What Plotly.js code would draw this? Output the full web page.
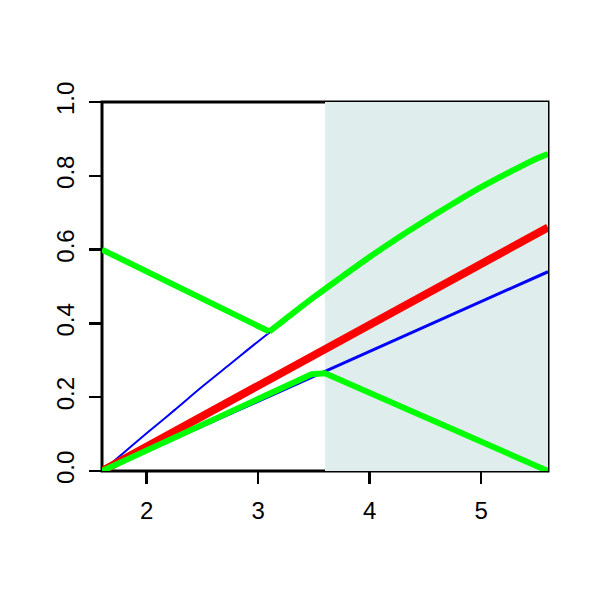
<!DOCTYPE html>
<html>
<head>
<meta charset="utf-8">
<script src="https://cdn.plot.ly/plotly-3.0.1.min.js"></script>
<style>html,body{margin:0;padding:0;background:#fff;}#plot{width:600px;height:600px;}</style>
</head>
<body>
<div id="plot"></div>
<script>
// Upper blue curve
var curveX = [1.6, 1.8, 2.0, 2.25, 2.5, 2.75, 3.0, 3.25, 3.5, 3.75, 4.0, 4.25, 4.5, 4.75, 5.0, 5.25, 5.5, 5.6];
var curveY = [0.0, 0.051, 0.102, 0.165, 0.229, 0.290, 0.351, 0.410, 0.468, 0.523, 0.577, 0.628, 0.676, 0.722, 0.766, 0.806, 0.843, 0.855];
// Lower blue straight line
var blueLineX = [1.6, 5.6];
var blueLineY = [0.0, 0.54];
// Red straight line
var redX = [1.6, 5.6];
var redY = [0.0, 0.66];
// Upper green: descending segment
var greenDownX = [1.6, 3.1];
var greenDownY = [0.6, 0.378];
// Upper green: rising part following the curve
var greenUpX = [3.1, 3.25, 3.5, 3.75, 4.0, 4.25, 4.5, 4.75, 5.0, 5.25, 5.5, 5.6];
var greenUpY = [0.378, 0.413, 0.471, 0.526, 0.580, 0.631, 0.679, 0.725, 0.769, 0.809, 0.847, 0.859];
// Lower green: rises along blue line, flat top, then descends
var greenLoX = [1.6, 3.48, 3.6, 5.6];
var greenLoY = [0.0, 0.262, 0.265, 0.0];
// Shaded region
var shadeX = [3.6, 5.6];
var xTicks = [2, 3, 4, 5];
var yTicks = [0, 0.2, 0.4, 0.6, 0.8, 1.0];
var yTickText = ['0.0', '0.2', '0.4', '0.6', '0.8', '1.0'];

var traces = [
  {x: curveX, y: curveY, mode: 'lines', line: {color: '#0000FF', width: 2, shape: 'spline'}, hoverinfo: 'skip'},
  {x: blueLineX, y: blueLineY, mode: 'lines', line: {color: '#0000FF', width: 3}, hoverinfo: 'skip'},
  {x: redX, y: redY, mode: 'lines', line: {color: '#FF0000', width: 8}, hoverinfo: 'skip'},
  {x: greenDownX, y: greenDownY, mode: 'lines', line: {color: '#00FF00', width: 6}, hoverinfo: 'skip'},
  {x: greenUpX, y: greenUpY, mode: 'lines', line: {color: '#00FF00', width: 6, shape: 'spline'}, hoverinfo: 'skip'},
  {x: greenLoX, y: greenLoY, mode: 'lines', line: {color: '#00FF00', width: 6}, hoverinfo: 'skip'}
];

var layout = {
  width: 600, height: 600,
  margin: {l: 102, r: 52, t: 102, b: 129},
  paper_bgcolor: '#ffffff', plot_bgcolor: '#ffffff',
  showlegend: false,
  font: {family: 'Liberation Sans, Arial, sans-serif', size: 24, color: '#000'},
  xaxis: {
    range: [1.6, 5.6], tickvals: xTicks, ticktext: xTicks.map(String),
    showgrid: false, zeroline: false, showline: false,
    ticks: 'outside', ticklen: 12, tickwidth: 2.5, tickcolor: '#000',
    ticklabelstandoff: 6
  },
  yaxis: {
    range: [0, 1], tickvals: yTicks, ticktext: yTickText, tickangle: -90,
    showgrid: false, zeroline: false, showline: false,
    ticks: 'outside', ticklen: 12, tickwidth: 2.5, tickcolor: '#000',
    ticklabelstandoff: 5
  },
  shapes: [
    {type: 'rect', xref: 'paper', yref: 'paper', x0: 0, x1: 1, y0: 0, y1: 1,
     line: {color: '#000', width: 3}, fillcolor: 'rgba(0,0,0,0)', layer: 'below'},
    {type: 'rect', xref: 'x', yref: 'y', x0: shadeX[0], x1: shadeX[1], y0: 0, y1: 1,
     line: {width: 0}, fillcolor: '#E0EDED', layer: 'below'}
  ]
};

Plotly.newPlot('plot', traces, layout, {staticPlot: true, displayModeBar: false});
</script>
</body>
</html>
